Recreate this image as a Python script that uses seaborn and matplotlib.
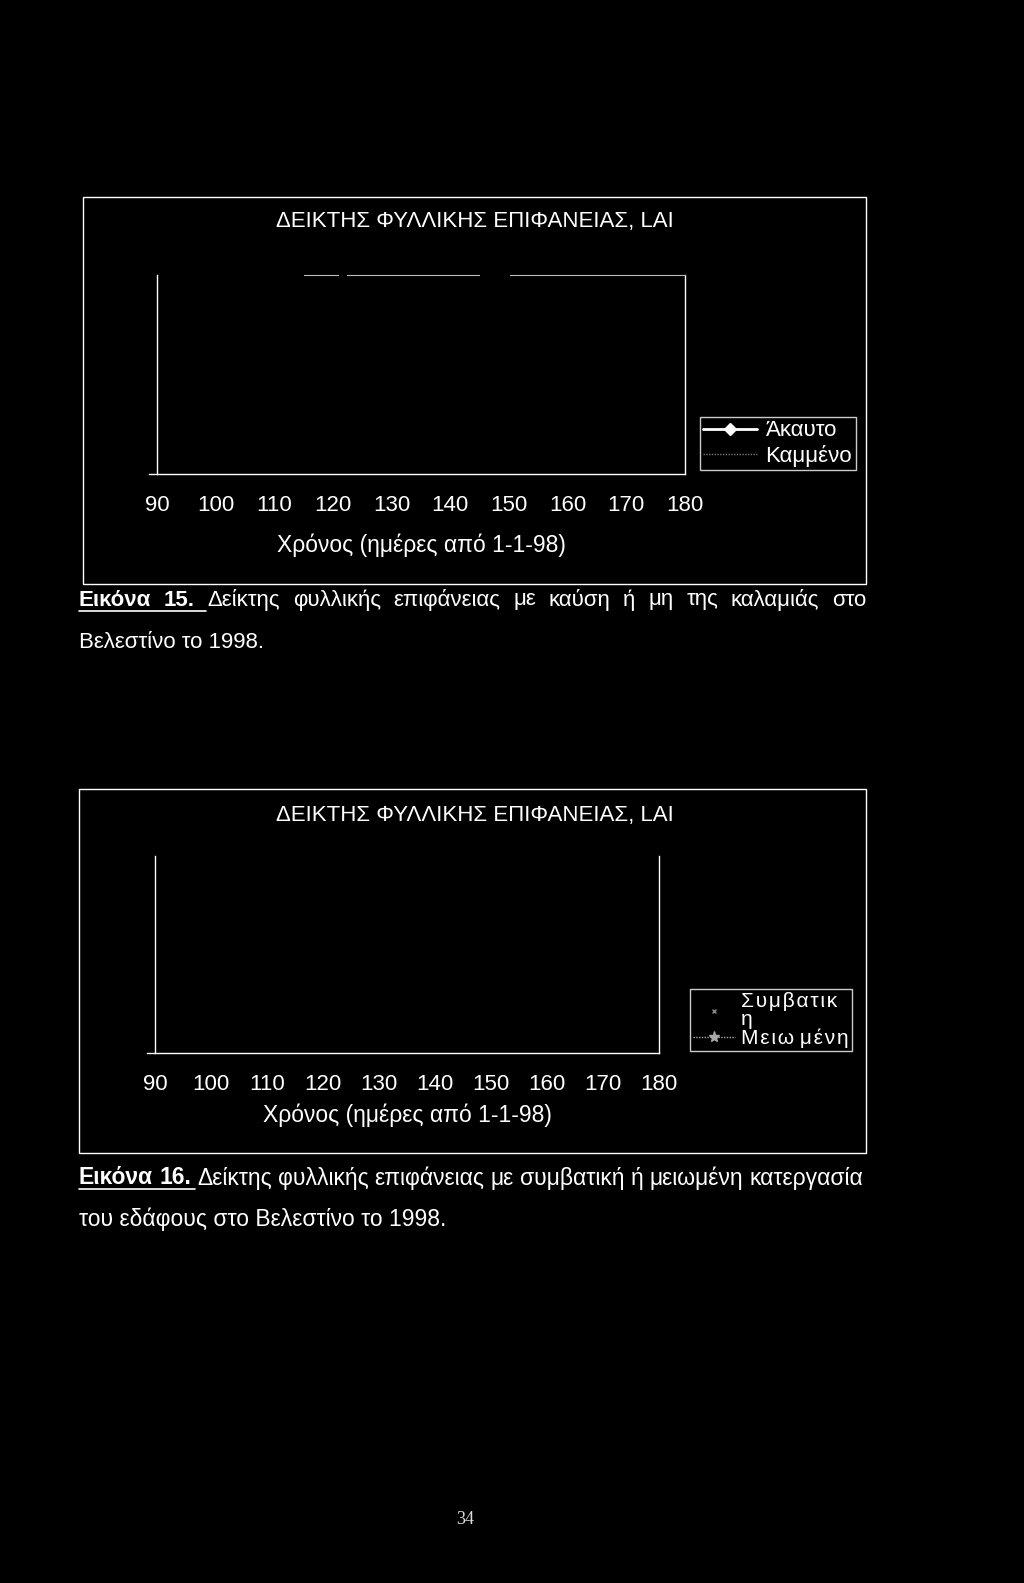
import matplotlib
matplotlib.use('Agg')
import matplotlib.pyplot as plt
import seaborn as sns
from matplotlib.patches import Rectangle
from matplotlib.lines import Line2D

# DATA
tick_days = [90, 100, 110, 120, 130, 140, 150, 160, 170, 180]
chart_title = "ΔΕΙΚΤΗΣ ΦΥΛΛΙΚΗΣ ΕΠΙΦΑΝΕΙΑΣ, LAI"
x_label = "Χρόνος (ημέρες από 1-1-98)"

# no data points are visible in the scan, series stay empty
fig15_labels = ["Άκαυτο", "Καμμένο"]
fig15_days = [[], []]
fig15_lai = [[], []]

HS = "\u200a"  # hair space, the scan shows letter-spaced legend text
fig16_labels = [HS.join("Συμβατικ") + "\nη", HS.join("Μειω") + " " + HS.join("μένη")]
fig16_days = [[], []]
fig16_lai = [[], []]

cap15_words = ["Δείκτης", "φυλλικής", "επιφάνειας", "με", "καύση", "ή", "μη", "της", "καλαμιάς", "στο"]
cap15_line2 = "Βελεστίνο το 1998."
cap16_words = ["Δείκτης", "φυλλικής", "επιφάνειας", "με", "συμβατική", "ή", "μειωμένη", "κατεργασία"]
cap16_line2 = "του εδάφους στο Βελεστίνο το 1998."

sns.set_style("dark")
plt.rcParams['font.family'] = ['Liberation Sans', 'DejaVu Sans']
plt.rcParams['text.color'] = 'white'

W, H = 1024, 1583
PX = 72 / 100  # points per pixel
fig = plt.figure(figsize=(W / 100, H / 100), dpi=100, facecolor='black')


def fx(px):
    return px / W


def fy(py):
    return 1 - py / H


def frame(x0, y0, x1, y1):
    fig.patches.append(Rectangle((fx(x0), fy(y1)), fx(x1 - x0), (y1 - y0) / H,
                                 transform=fig.transFigure, fill=False,
                                 edgecolor='white', linewidth=1.0))


def make_axes(x0, y0, x1, y1, labelpad, top_dashes=None):
    ax = fig.add_axes([fx(x0), fy(y1), fx(x1 - x0), (y1 - y0) / H])
    ax.set_facecolor('black')
    ax.set_xlim(90, 180)
    ax.set_ylim(0, 1)
    ax.set_xticks(tick_days)
    ax.set_xticklabels([str(d) for d in tick_days])
    ax.set_xticks([90], minor=True)
    ax.set_yticks([])
    ax.tick_params(axis='x', which='major', length=0, pad=15, labelsize=16, colors='white')
    ax.tick_params(axis='x', which='minor', length=8 * PX, width=1, color='white', direction='out')
    ax.grid(False)
    for s in ['left', 'right', 'bottom', 'top']:
        ax.spines[s].set_visible(True)
        ax.spines[s].set_color('white')
        ax.spines[s].set_linewidth(1.0)
    # the x axis line runs a little past the left axis, as in the scan
    ax.spines['bottom'].set_bounds(90 - 8 / (x1 - x0) * 90, 180)
    if top_dashes is None:
        ax.spines['top'].set_visible(False)
    else:
        ax.spines['top'].set_color('#bbbbbb')
        ax.spines['top'].set_linewidth(0.8)
        ax.spines['top'].set_linestyle(top_dashes)
    ax.set_xlabel(x_label, fontsize=16.5, color='white', labelpad=labelpad)
    return ax


def justify(words, x0, x1, y, size, bold_first=None):
    renderer = fig.canvas.get_renderer()
    while True:
        items = []
        for w in (bold_first or []):
            items.append(fig.text(0, fy(y), w, fontsize=size, fontweight='bold', va='center'))
        for w in words:
            items.append(fig.text(0, fy(y), w, fontsize=size, va='center'))
        widths = [t.get_window_extent(renderer).width for t in items]
        gap = (x1 - x0 - sum(widths)) / (len(items) - 1)
        if gap >= size * 0.35:
            break
        for t in items:
            t.remove()
        size -= 0.25
    x = x0
    pos = []
    for t, w in zip(items, widths):
        t.set_x(fx(x))
        pos.append((x, w))
        x += w + gap
    return pos, size


# ---------- Εικόνα 15 ----------
frame(83, 197, 866, 584)
fig.text(fx(475), fy(222), chart_title, fontsize=16, ha='center', va='center')
# broken top border of the plot area (pixel lengths, converted to points)
seg = [34, 9, 132, 31, 175, 147]
top_ls = (sum(seg[:5]) * PX / 0.8, tuple(s * PX / 0.8 for s in seg))
ax1 = make_axes(157, 275, 685, 474, 13, top_ls)
styles15 = [dict(color='white', marker='D', markersize=6, lw=2),
            dict(color='#777777', marker=None, lw=1, ls=(0, (1, 1)))]
for d, v, lab, st in zip(fig15_days, fig15_lai, fig15_labels, styles15):
    ax1.plot(d, v, label=lab, **st)
leg1 = ax1.legend(loc='upper left', bbox_to_anchor=(fx(700), fy(417)),
                  bbox_transform=fig.transFigure, borderaxespad=0, frameon=True,
                  fancybox=False, facecolor='black', edgecolor='white', fontsize=16,
                  handlelength=2.4, handletextpad=0.4, labelspacing=0.15,
                  borderpad=0.15)
leg1.get_frame().set_linewidth(1.0)
for t in leg1.get_texts():
    t.set_color('white')

pos, sz = justify(cap15_words, 79, 866, 600, 16, bold_first=["Εικόνα", "15."])
fig.lines.append(Line2D([fx(79), fx(pos[2][0] - 2)], [fy(611), fy(611)],
                        transform=fig.transFigure, color='white', lw=1.2))
fig.text(fx(79), fy(642), cap15_line2, fontsize=16, va='center')

# ---------- Εικόνα 16 ----------
frame(79, 789, 866, 1153)
fig.text(fx(475), fy(816), chart_title, fontsize=16, ha='center', va='center')
ax2 = make_axes(155, 856, 659, 1053, 6)
styles16 = [dict(color='#888888', marker='x', markersize=3, lw=0),
            dict(color='#aaaaaa', marker='*', markersize=8, lw=1, ls=(0, (1, 1)))]
for d, v, lab, st in zip(fig16_days, fig16_lai, fig16_labels, styles16):
    ax2.plot(d, v, label=lab, **st)
leg2 = ax2.legend(loc='upper left', bbox_to_anchor=(fx(690), fy(989)),
                  bbox_transform=fig.transFigure, borderaxespad=0, frameon=True,
                  fancybox=False, facecolor='black', edgecolor='white', fontsize=15,
                  handlelength=2.0, handletextpad=0.3, labelspacing=0.0,
                  borderpad=0.15)
leg2.get_frame().set_linewidth(1.0)
for t in leg2.get_texts():
    t.set_color('white')
    t.set_linespacing(0.9)

pos, sz = justify(cap16_words, 79, 863, 1178, 16.5, bold_first=["Εικόνα", "16."])
fig.lines.append(Line2D([fx(79), fx(pos[2][0] - 2)], [fy(1189), fy(1189)],
                        transform=fig.transFigure, color='white', lw=1.2))
fig.text(fx(79), fy(1219), cap16_line2, fontsize=16.5, va='center')

# page number
fig.text(fx(465), fy(1520), "34", fontsize=13, ha='center', va='center',
         family=['Liberation Serif', 'DejaVu Serif'], color='#dddddd')

plt.savefig("out.png", dpi=100, facecolor='black')
plt.close()
